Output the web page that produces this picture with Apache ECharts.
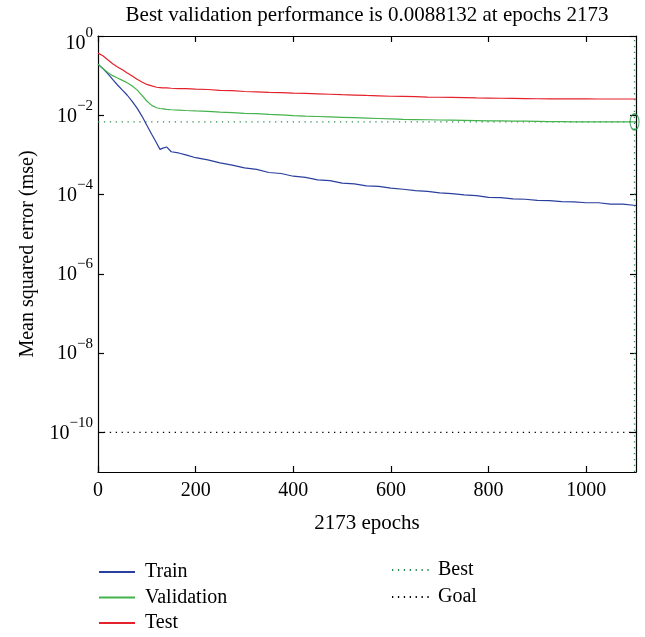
<!DOCTYPE html>
<html>
<head>
<meta charset="utf-8">
<script src="https://cdn.jsdelivr.net/npm/echarts@6/dist/echarts.min.js"></script>
<style>html,body{margin:0;padding:0;background:#fff}#c{width:645px;height:637px}</style>
</head>
<body>
<div id="c"></div>
<script>
// ---- data ----
const epochs = [0,10,20,30,40,50,60,70,80,90,100,110,120,127,133,141,150,165,180,200,225,250,275,300,325,350,375,400,425,450,475,500,525,550,575,600,625,650,675,700,725,750,775,800,825,850,875,900,925,950,975,1000,1025,1050,1075,1102];
const train = [0.195,0.150,0.112,0.0800,0.0580,0.0430,0.0320,0.0224,0.0151,0.00955,0.00562,0.00331,0.0020,0.00138,0.00148,0.00158,0.00120,0.00112,0.00100,8.5e-4,7.5e-4,6.3e-4,5.5e-4,4.7e-4,4.3e-4,3.6e-4,3.4e-4,2.9e-4,2.7e-4,2.35e-4,2.25e-4,1.95e-4,1.85e-4,1.66e-4,1.6e-4,1.45e-4,1.36e-4,1.26e-4,1.2e-4,1.10e-4,1.05e-4,9.8e-5,9.4e-5,8.5e-5,8.4e-5,7.8e-5,7.6e-5,7.1e-5,7.0e-5,6.6e-5,6.5e-5,6.2e-5,6.2e-5,5.75e-5,5.7e-5,5.3e-5];
const validation = [0.195,0.151,0.120,0.100,0.087,0.076,0.066,0.055,0.0437,0.0316,0.0229,0.0178,0.0155,0.0148,0.0145,0.0141,0.0138,0.0135,0.0132,0.0129,0.0126,0.0120,0.0117,0.0112,0.0110,0.0105,0.0102,0.0098,0.0095,0.0093,0.0091,0.0089,0.0087,0.0085,0.0083,0.0081,0.0079,0.0078,0.0077,0.0076,0.0075,0.0074,0.0073,0.0072,0.0072,0.0071,0.0071,0.0070,0.0069,0.0069,0.0068,0.0068,0.0068,0.0068,0.0068,0.0068];
const test = [0.37,0.316,0.251,0.200,0.166,0.141,0.117,0.098,0.081,0.069,0.060,0.055,0.051,0.050,0.049,0.049,0.048,0.047,0.047,0.0457,0.0447,0.0427,0.0417,0.0398,0.0389,0.0380,0.0372,0.0363,0.0355,0.0347,0.0339,0.0331,0.0324,0.0316,0.0309,0.0302,0.0299,0.0295,0.0288,0.0285,0.0282,0.0279,0.0275,0.0272,0.0269,0.0266,0.0263,0.0261,0.0260,0.0259,0.0258,0.0258,0.0257,0.0257,0.0257,0.0257];
const bestEpoch = 1099;
const bestValue = 0.0068;
const goalValue = 1e-10;
const xMin = 0, xMax = 1102;
const yMin = 1e-11, yMax = 1;
const xTicks = [0,200,400,600,800,1000];
const yTicks = [1,1e-2,1e-4,1e-6,1e-8,1e-10];
const titleText = 'Best validation performance is 0.0088132 at epochs 2173';
const xName = '2173 epochs';
const yName = 'Mean squared error (mse)';

const FONT = "'Liberation Serif','DejaVu Serif',serif";
const pair = (xs, ys) => xs.map((x, i) => [x, ys[i]]);

const yLabelFmt = v => {
  const e = Math.round(Math.log10(v));
  const s = e < 0 ? '\u2212' + (-e) : String(e);
  const lbl = '{b|10}{s|' + s + '}';
  // the top label sits a little lower in the reference
  return e === 0 ? '{sp| }\n' + lbl : lbl;
};

const chart = echarts.init(document.getElementById('c'), null, {renderer: 'canvas'});
const axisLine = {show: true, onZero: false, lineStyle: {color: '#000', width: 1.2}};
const tickStyle = {show: true, inside: true, length: 6, lineStyle: {color: '#000', width: 1.2}};
const dotted = [1.3, 4.6];

chart.setOption({
  animation: false,
  backgroundColor: '#fff',
  title: {
    text: titleText, left: 362, top: 0, textAlign: 'center',
    textStyle: {fontFamily: FONT, fontSize: 21, fontWeight: 'normal', color: '#000'}
  },
  grid: {left: 98, right: 9, top: 36, bottom: 165},
  xAxis: [{
    type: 'value', min: xMin, max: xMax,
    name: xName, nameLocation: 'middle', nameGap: 41,
    nameTextStyle: {fontFamily: FONT, fontSize: 21, color: '#000'},
    axisLine: axisLine,
    axisTick: Object.assign({customValues: xTicks}, tickStyle),
    axisLabel: {customValues: xTicks, formatter: v => String(v), fontFamily: FONT, fontSize: 20, color: '#000', margin: 9},
    splitLine: {show: false}
  }, {
    type: 'value', min: xMin, max: xMax, position: 'top',
    axisLine: axisLine,
    axisTick: Object.assign({customValues: xTicks}, tickStyle),
    axisLabel: {show: false},
    splitLine: {show: false}
  }],
  yAxis: [{
    type: 'log', logBase: 10, min: yMin, max: yMax,
    name: yName, nameLocation: 'middle', nameGap: 60,
    nameTextStyle: {fontFamily: FONT, fontSize: 20, color: '#000'},
    axisLine: axisLine,
    axisTick: Object.assign({customValues: yTicks}, tickStyle),
    axisLabel: {
      customValues: yTicks, formatter: yLabelFmt, margin: 5, padding: [0, 0, 6, 0],
      rich: {
        b: {fontFamily: FONT, fontSize: 20, color: '#000', lineHeight: 28, verticalAlign: 'bottom'},
        s: {fontFamily: FONT, fontSize: 15, color: '#000', lineHeight: 28, verticalAlign: 'top'},
        sp: {fontFamily: FONT, fontSize: 8, color: '#000', lineHeight: 14}
      }
    },
    splitLine: {show: false}
  }, {
    type: 'log', logBase: 10, min: yMin, max: yMax, position: 'right',
    axisLine: axisLine,
    axisTick: Object.assign({customValues: yTicks}, tickStyle),
    axisLabel: {show: false},
    splitLine: {show: false}
  }],
  legend: [{
    data: ['Train', 'Validation', 'Test'],
    orient: 'vertical', left: 98, top: 562, padding: 0, itemWidth: 36, itemHeight: 14, itemGap: 5.5,
    itemStyle: {opacity: 0},
    textStyle: {fontFamily: FONT, fontSize: 20, lineHeight: 20, color: '#000', padding: [0, 0, 0, 5]}
  }, {
    data: ['Best', 'Goal'],
    orient: 'vertical', left: 391, top: 560, padding: 0, itemWidth: 37, itemHeight: 14, itemGap: 7,
    itemStyle: {opacity: 0},
    textStyle: {fontFamily: FONT, fontSize: 20, lineHeight: 20, color: '#000', padding: [0, 0, 0, 4]}
  }],
  series: [
    {name: 'Train', type: 'line', data: pair(epochs, train), symbol: 'none', color: '#2a3f9e',
     lineStyle: {color: '#2a3f9e', width: 1.2}, z: 5},
    {name: 'Validation', type: 'line', data: pair(epochs, validation), symbol: 'none', color: '#44b34c',
     lineStyle: {color: '#44b34c', width: 1.2}, z: 5},
    {name: 'Test', type: 'line', data: pair(epochs, test), symbol: 'none', color: '#e5212b',
     lineStyle: {color: '#e5212b', width: 1.2}, z: 5},
    {name: 'Best', type: 'line', data: [[xMin, bestValue], [xMax, bestValue]], symbol: 'none', color: '#2e8b57',
     lineStyle: {color: '#2e8b57', width: 1.3, type: dotted}, z: 3},
    {name: 'Goal', type: 'line', data: [[xMin, goalValue], [xMax, goalValue]], symbol: 'none', color: '#000',
     lineStyle: {color: '#000', width: 1.3, type: dotted}, z: 3},
    {name: 'BestVertical', type: 'line', data: [[bestEpoch, yMin], [bestEpoch, yMax]], symbol: 'none',
     lineStyle: {color: '#2e8b57', width: 1.3, type: dotted}, z: 3},
    {name: 'BestPoint', type: 'scatter', data: [[bestEpoch, bestValue]], symbol: 'circle',
     symbolSize: [9, 16], itemStyle: {color: 'rgba(0,0,0,0)', borderColor: '#1e8a3e', borderWidth: 1.3}, z: 6}
  ]
});
</script>
</body>
</html>
